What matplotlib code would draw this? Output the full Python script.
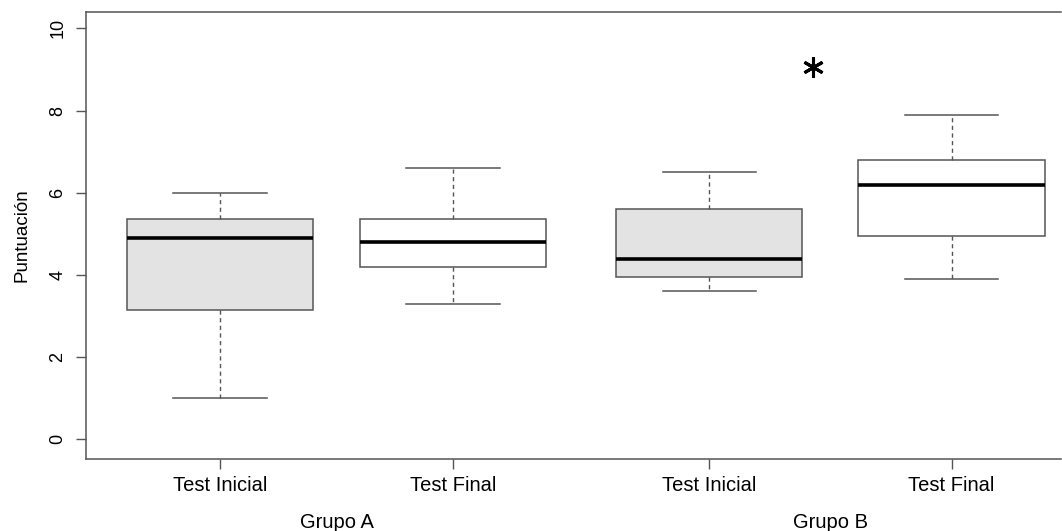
import matplotlib.pyplot as plt

plt.rcParams["font.family"] = ["Liberation Sans", "DejaVu Sans"]

# --------------------------
# Data
# --------------------------
tick_labels = ["Test Inicial", "Test Final", "Test Inicial", "Test Final"]
group_labels = ["Grupo A", "Grupo B"]
positions = [1, 2, 3.1, 4.14]

whisker_low = [1.0, 3.3, 3.6, 3.9]
q1 = [3.15, 4.2, 3.95, 4.95]
medians = [4.9, 4.8, 4.4, 6.2]
q3 = [5.35, 5.35, 5.6, 6.8]
whisker_high = [6.0, 6.6, 6.5, 7.9]
fills = ["#e3e3e3", "white", "#e3e3e3", "white"]

star_x, star_y = 3.545, 9.07

# --------------------------
# Plot
# --------------------------
stats = []
for i in range(len(medians)):
    stats.append({"whislo": whisker_low[i], "q1": q1[i], "med": medians[i],
                  "q3": q3[i], "whishi": whisker_high[i], "fliers": []})

fig = plt.figure(figsize=(10.62, 5.31), dpi=100)
ax = fig.add_axes([86 / 1062, 72 / 531, 975 / 1062, 447 / 531])

edge = "#555555"

bp = ax.bxp(stats, positions=positions, widths=0.8, capwidths=0.4,
            patch_artist=True, showfliers=False,
            boxprops=dict(edgecolor=edge, linewidth=1.1),
            whiskerprops=dict(color=edge, linestyle=(0, (3, 2.5)), linewidth=1.0),
            capprops=dict(color=edge, linewidth=1.1),
            medianprops=dict(color="black", linewidth=2.6, solid_capstyle="butt"))
for patch, c in zip(bp["boxes"], fills):
    patch.set_facecolor(c)

# significance mark
ax.plot([star_x], [star_y], marker=(6, 2, 0), markersize=15,
        markeredgewidth=2.2, color="black")

ax.set_xlim(0.425, 4.61)
ax.set_ylim(-0.48, 10.4)
ax.set_yticks([0, 2, 4, 6, 8, 10])
ax.set_yticklabels(["0", "2", "4", "6", "8", "10"], rotation=90, va="center",
                   fontsize=13)
ax.set_xticks(positions)
ax.set_xticklabels(tick_labels, fontsize=14.5)
ax.tick_params(axis="both", color=edge, length=7, width=1.0)
ax.tick_params(axis="x", pad=5)
ax.tick_params(axis="y", pad=7)
ax.set_ylabel("Puntuación", fontsize=13.5, labelpad=14)

for s in ["left", "bottom", "top"]:
    ax.spines[s].set_color(edge)
    ax.spines[s].set_linewidth(1.1)
ax.spines["right"].set_visible(False)

# group labels under the tick labels
for k, g in enumerate(group_labels):
    gx = (positions[2 * k] + positions[2 * k + 1]) / 2
    ax.annotate(g, xy=(gx, 0), xycoords=("data", "axes fraction"),
                xytext=(0, -63), textcoords="offset pixels",
                ha="center", va="center", fontsize=14.5)

fig.savefig("out.png", dpi=100)
